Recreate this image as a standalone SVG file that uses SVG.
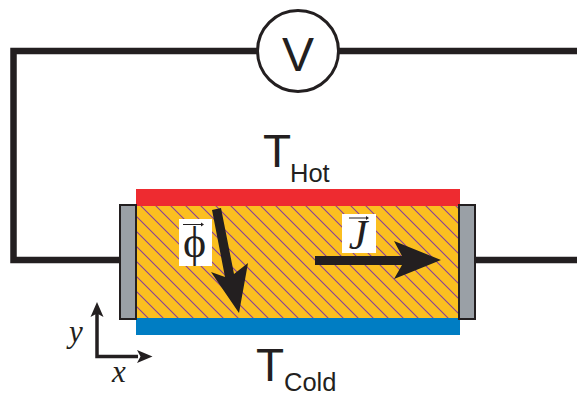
<svg xmlns="http://www.w3.org/2000/svg" width="577" height="397" viewBox="0 0 577 397">
<style>
.wire{fill:none;stroke:#231f20;stroke-width:6.500}
.thin{fill:none;stroke:#231f20;stroke-width:3.500}
.ink{fill:#231f20}
.sans{font-family:"Liberation Sans",Arial,sans-serif;fill:#231f20}
.serif{font-family:"Liberation Serif","Times New Roman",serif;fill:#231f20}
.it{font-style:italic}
.contact{fill:#9aa0a6;stroke:#231f20;stroke-width:2}
</style>
<defs>
<pattern id="hatch" patternUnits="userSpaceOnUse" width="15" height="15" patternTransform="translate(141 206)">
<path d="M0 0L15 15M-2 13L2 17M13 -2L17 2" stroke="#8a3f96" stroke-width="1.100" fill="none"/>
</pattern>
</defs>
<rect width="577" height="397" fill="#fff"/>
<g id="connectors">
<path class="wire" d="M258 51H13.500V260H120"/>
<path class="wire" d="M338 51H577"/>
<path class="wire" d="M475 260H577"/>
</g>
<g id="voltmeter">
<circle cx="298" cy="51" r="40.500" fill="#fff" stroke="#231f20" stroke-width="3"/>
<text class="sans" x="298" y="71" font-size="48" text-anchor="middle">V</text>
</g>
<g id="material">
<rect x="136" y="205" width="324" height="114" fill="#fbbf20"/>
<rect x="136" y="205" width="324" height="114" fill="url(#hatch)"/>
</g>
<g id="hot-plate"><rect x="136" y="189" width="324" height="17" fill="#ee2b30"/></g>
<g id="cold-plate"><rect x="136" y="318" width="324" height="17" fill="#007dc3"/></g>
<g id="left-contact"><rect class="contact" x="120" y="205" width="16" height="114"/></g>
<g id="right-contact"><rect class="contact" x="459" y="205" width="16" height="114"/></g>
<g id="t-hot">
<text class="sans" x="263" y="167" font-size="46">T</text>
<text class="sans" x="290" y="182" font-size="25.500">Hot</text>
</g>
<g id="t-cold">
<text class="sans" x="256" y="381" font-size="46">T</text>
<text class="sans" x="284" y="391" font-size="25.500">Cold</text>
</g>
<g id="phi-arrow">
<path class="ink" d="M212 210L221 208L234 274L248 263L239 313L211 272L225 277Z"/>
</g>
<g id="phi-label">
<rect x="179" y="219" width="33" height="47" fill="#fff"/>
<text class="serif" x="194.500" y="257" font-size="44" text-anchor="middle">ϕ</text>
<path class="ink" d="M183 224H201V222.500L204 224.500L201 226.500V225H183Z"/>
</g>
<g id="j-arrow">
<path class="ink" d="M315 256H402L394 241L441 260L394 279L402 265H315Z"/>
</g>
<g id="j-label">
<rect x="342" y="214" width="34" height="39" fill="#fff"/>
<text class="serif it" x="358" y="249" font-size="42" text-anchor="middle">J</text>
<path class="ink" d="M349 217.500H366V216L369 218L366 220V218.500H349Z"/>
</g>
<g id="axes">
<path class="thin" d="M97 312V356.500H138"/>
<path class="ink" d="M97 302L103.500 317L97 313.500L90.500 317Z"/>
<path class="ink" d="M152.500 356.500L137 350L140.500 356.500L137 363Z"/>
<text class="serif it" x="69" y="342" font-size="31">y</text>
<text class="serif it" x="112" y="382" font-size="31">x</text>
</g>
</svg>
